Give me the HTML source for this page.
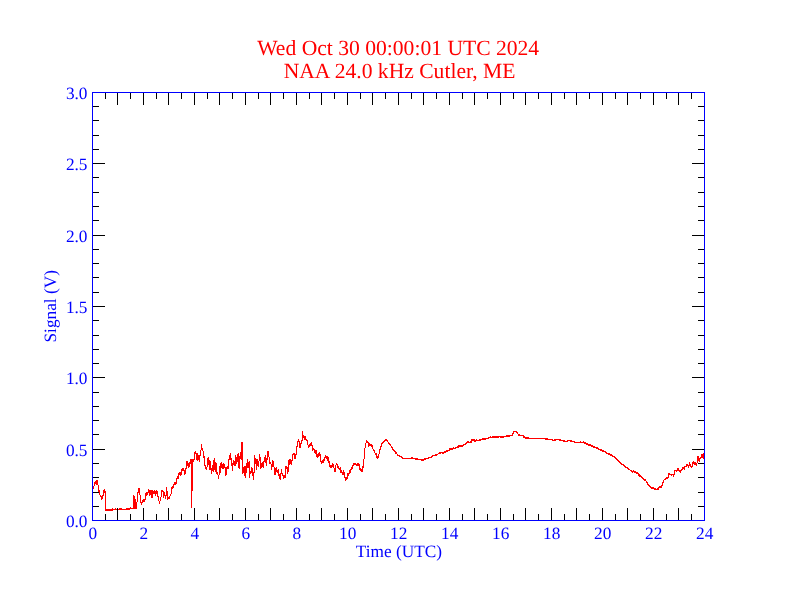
<!DOCTYPE html>
<html lang="en"><head><meta charset="utf-8"><title>NAA 24.0 kHz Cutler, ME</title>
<style>
html,body{margin:0;padding:0;background:#fff;}
body{width:792px;height:612px;overflow:hidden;font-family:"Liberation Serif",serif;}
svg{display:block;will-change:transform;}
text{font-family:"Liberation Serif",serif;text-rendering:geometricPrecision;}
</style></head><body>
<svg width="792" height="612" viewBox="0 0 792 612">
<rect width="792" height="612" fill="#fff"/>
<g fill="#f00" font-size="21.6px" text-anchor="middle">
<text x="398.2" y="54.6">Wed Oct 30 00:00:01 UTC 2024</text>
<text x="399.6" y="77.8">NAA 24.0 kHz Cutler, ME</text>
</g>
<path fill="#f00" shape-rendering="crispEdges" d="M93 486h1v3h-1zM94 482h1v4h-1zM95 481h1v3h-1zM96 480h1v5h-1zM97 480h1v5h-1zM98 485h1v7h-1zM99 490h1v5h-1zM100 495h1v2h-1zM101 496h1v4h-1zM102 495h1v4h-1zM103 490h1v6h-1zM104 489h1v4h-1zM105 491h1v20h-1zM106 509h1v2h-1zM107 509h1v2h-1zM108 509h1v2h-1zM109 509h1v2h-1zM110 509h1v2h-1zM111 509h1v2h-1zM112 508h1v3h-1zM113 509h1v1h-1zM114 509h1v1h-1zM115 508h1v2h-1zM116 509h1v1h-1zM117 509h1v1h-1zM118 509h1v1h-1zM119 508h1v2h-1zM120 508h1v2h-1zM121 508h1v2h-1zM122 509h1v1h-1zM123 509h1v1h-1zM124 509h1v1h-1zM125 509h1v1h-1zM126 508h1v2h-1zM127 508h1v2h-1zM128 508h1v2h-1zM129 508h1v2h-1zM130 507h1v2h-1zM131 508h1v1h-1zM132 508h1v1h-1zM133 495h1v14h-1zM134 496h1v13h-1zM135 499h1v10h-1zM136 502h1v7h-1zM137 492h1v10h-1zM138 488h1v5h-1zM139 488h1v7h-1zM140 495h1v8h-1zM141 502h1v3h-1zM142 500h1v3h-1zM143 499h1v3h-1zM144 499h1v3h-1zM145 493h1v7h-1zM146 492h1v4h-1zM147 492h1v3h-1zM148 489h1v4h-1zM149 490h1v6h-1zM150 490h1v5h-1zM151 490h1v8h-1zM152 490h1v8h-1zM153 491h1v3h-1zM154 490h1v4h-1zM155 491h1v5h-1zM156 490h1v4h-1zM157 491h1v6h-1zM158 496h1v5h-1zM159 501h1v3h-1zM160 497h1v4h-1zM161 490h1v7h-1zM162 490h1v2h-1zM163 491h1v7h-1zM164 492h1v4h-1zM165 495h1v4h-1zM166 487h1v9h-1zM167 491h1v9h-1zM168 497h1v2h-1zM169 496h1v3h-1zM170 494h1v2h-1zM171 487h1v7h-1zM172 486h1v3h-1zM173 484h1v4h-1zM174 482h1v3h-1zM175 482h1v3h-1zM176 478h1v6h-1zM177 476h1v3h-1zM178 473h1v6h-1zM179 472h1v3h-1zM180 472h1v4h-1zM181 469h1v6h-1zM182 468h1v3h-1zM183 468h1v3h-1zM184 470h1v5h-1zM185 468h1v6h-1zM186 461h1v8h-1zM187 461h1v5h-1zM188 463h1v5h-1zM189 462h1v5h-1zM190 459h1v5h-1zM191 459h1v49h-1zM192 459h1v32h-1zM193 459h1v3h-1zM194 452h1v8h-1zM195 451h1v3h-1zM196 453h1v7h-1zM197 453h1v8h-1zM198 455h1v5h-1zM199 455h1v7h-1zM200 450h1v6h-1zM201 444h1v6h-1zM202 448h1v3h-1zM203 451h1v7h-1zM204 456h1v10h-1zM205 465h1v4h-1zM206 467h1v3h-1zM207 458h1v9h-1zM208 457h1v8h-1zM209 460h1v10h-1zM210 461h1v9h-1zM211 468h1v6h-1zM212 465h1v6h-1zM213 460h1v12h-1zM214 458h1v12h-1zM215 462h1v10h-1zM216 463h1v11h-1zM217 472h1v3h-1zM218 475h1v4h-1zM219 466h1v9h-1zM220 463h1v10h-1zM221 462h1v6h-1zM222 464h1v5h-1zM223 463h1v6h-1zM224 464h1v4h-1zM225 467h1v9h-1zM226 467h1v8h-1zM227 466h1v3h-1zM228 459h1v10h-1zM229 455h1v5h-1zM230 453h1v7h-1zM231 458h1v8h-1zM232 463h1v8h-1zM233 460h1v5h-1zM234 461h1v5h-1zM235 455h1v11h-1zM236 457h1v7h-1zM237 454h1v8h-1zM238 453h1v15h-1zM239 456h1v13h-1zM240 452h1v7h-1zM241 442h1v18h-1zM242 442h1v32h-1zM243 467h1v6h-1zM244 466h1v10h-1zM245 466h1v12h-1zM246 463h1v10h-1zM247 459h1v9h-1zM248 462h1v6h-1zM249 461h1v17h-1zM250 471h1v3h-1zM251 467h1v6h-1zM252 468h1v8h-1zM253 472h1v8h-1zM254 455h1v18h-1zM255 458h1v6h-1zM256 459h1v11h-1zM257 459h1v7h-1zM258 461h1v6h-1zM259 454h1v7h-1zM260 457h1v12h-1zM261 463h1v5h-1zM262 462h1v5h-1zM263 461h1v7h-1zM264 457h1v5h-1zM265 455h1v8h-1zM266 458h1v8h-1zM267 451h1v9h-1zM268 451h1v6h-1zM269 457h1v7h-1zM270 462h1v2h-1zM271 464h1v6h-1zM272 460h1v7h-1zM273 461h1v6h-1zM274 467h1v8h-1zM275 468h1v7h-1zM276 467h1v5h-1zM277 470h1v3h-1zM278 469h1v7h-1zM279 474h1v5h-1zM280 473h1v7h-1zM281 469h1v5h-1zM282 473h1v3h-1zM283 475h1v4h-1zM284 475h1v3h-1zM285 466h1v12h-1zM286 466h1v3h-1zM287 467h1v7h-1zM288 460h1v12h-1zM289 459h1v6h-1zM290 459h1v5h-1zM291 460h1v5h-1zM292 454h1v7h-1zM293 453h1v2h-1zM294 453h1v6h-1zM295 454h1v5h-1zM296 446h1v9h-1zM297 441h1v6h-1zM298 439h1v3h-1zM299 441h1v7h-1zM300 443h1v5h-1zM301 440h1v4h-1zM302 431h1v10h-1zM303 435h1v3h-1zM304 436h1v4h-1zM305 436h1v4h-1zM306 439h1v2h-1zM307 440h1v5h-1zM308 445h1v3h-1zM309 444h1v3h-1zM310 443h1v3h-1zM311 442h1v4h-1zM312 445h1v6h-1zM313 448h1v2h-1zM314 449h1v4h-1zM315 450h1v4h-1zM316 450h1v7h-1zM317 454h1v4h-1zM318 453h1v4h-1zM319 452h1v4h-1zM320 454h1v8h-1zM321 461h1v3h-1zM322 460h1v3h-1zM323 459h1v4h-1zM324 457h1v4h-1zM325 455h1v3h-1zM326 456h1v3h-1zM327 456h1v5h-1zM328 457h1v6h-1zM329 461h1v6h-1zM330 465h1v3h-1zM331 465h1v3h-1zM332 463h1v4h-1zM333 464h1v4h-1zM334 468h1v4h-1zM335 465h1v7h-1zM336 463h1v2h-1zM337 464h1v4h-1zM338 466h1v3h-1zM339 468h1v2h-1zM340 467h1v6h-1zM341 470h1v3h-1zM342 472h1v3h-1zM343 470h1v5h-1zM344 472h1v6h-1zM345 477h1v4h-1zM346 477h1v3h-1zM347 473h1v6h-1zM348 473h1v3h-1zM349 470h1v4h-1zM350 469h1v4h-1zM351 467h1v3h-1zM352 465h1v4h-1zM353 463h1v3h-1zM354 463h1v2h-1zM355 463h1v2h-1zM356 464h1v2h-1zM357 463h1v3h-1zM358 463h1v3h-1zM359 464h1v6h-1zM360 468h1v3h-1zM361 469h1v3h-1zM362 466h1v6h-1zM363 459h1v9h-1zM364 448h1v11h-1zM365 443h1v5h-1zM366 440h1v3h-1zM367 441h1v2h-1zM368 442h1v5h-1zM369 443h1v3h-1zM370 444h1v2h-1zM371 444h1v3h-1zM372 445h1v4h-1zM373 449h1v2h-1zM374 450h1v3h-1zM375 453h1v2h-1zM376 453h1v5h-1zM377 456h1v3h-1zM378 454h1v4h-1zM379 449h1v5h-1zM380 446h1v4h-1zM381 443h1v4h-1zM382 442h1v2h-1zM383 441h1v2h-1zM384 440h1v2h-1zM385 439h1v2h-1zM386 439h1v2h-1zM387 440h1v2h-1zM388 442h1v2h-1zM389 443h1v2h-1zM390 444h1v2h-1zM391 446h1v2h-1zM392 447h1v3h-1zM393 449h1v2h-1zM394 450h1v2h-1zM395 451h1v3h-1zM396 452h1v2h-1zM397 454h1v2h-1zM398 455h1v1h-1zM399 455h1v2h-1zM400 456h1v1h-1zM401 456h1v2h-1zM402 457h1v2h-1zM403 458h1v1h-1zM404 458h1v1h-1zM405 458h1v1h-1zM406 458h1v1h-1zM407 458h1v1h-1zM408 458h1v1h-1zM409 458h1v1h-1zM410 458h1v1h-1zM411 457h1v2h-1zM412 457h1v2h-1zM413 458h1v1h-1zM414 458h1v1h-1zM415 458h1v2h-1zM416 458h1v2h-1zM417 458h1v2h-1zM418 459h1v1h-1zM419 459h1v1h-1zM420 459h1v1h-1zM421 459h1v2h-1zM422 459h1v2h-1zM423 459h1v2h-1zM424 458h1v2h-1zM425 458h1v2h-1zM426 458h1v1h-1zM427 458h1v1h-1zM428 457h1v2h-1zM429 457h1v1h-1zM430 457h1v1h-1zM431 456h1v2h-1zM432 455h1v2h-1zM433 455h1v1h-1zM434 455h1v1h-1zM435 454h1v2h-1zM436 454h1v2h-1zM437 454h1v1h-1zM438 453h1v1h-1zM439 452h1v2h-1zM440 452h1v2h-1zM441 452h1v1h-1zM442 452h1v2h-1zM443 452h1v2h-1zM444 451h1v2h-1zM445 451h1v2h-1zM446 450h1v2h-1zM447 450h1v2h-1zM448 450h1v1h-1zM449 448h1v3h-1zM450 448h1v2h-1zM451 448h1v2h-1zM452 448h1v2h-1zM453 447h1v2h-1zM454 448h1v1h-1zM455 447h1v2h-1zM456 447h1v1h-1zM457 446h1v2h-1zM458 445h1v3h-1zM459 445h1v2h-1zM460 445h1v2h-1zM461 445h1v2h-1zM462 445h1v2h-1zM463 444h1v2h-1zM464 444h1v1h-1zM465 443h1v2h-1zM466 442h1v2h-1zM467 441h1v2h-1zM468 441h1v2h-1zM469 442h1v1h-1zM470 441h1v2h-1zM471 439h1v4h-1zM472 439h1v2h-1zM473 439h1v2h-1zM474 439h1v3h-1zM475 440h1v2h-1zM476 439h1v2h-1zM477 440h1v1h-1zM478 440h1v1h-1zM479 439h1v2h-1zM480 439h1v2h-1zM481 439h1v1h-1zM482 438h1v2h-1zM483 438h1v2h-1zM484 438h1v2h-1zM485 438h1v2h-1zM486 438h1v1h-1zM487 438h1v1h-1zM488 437h1v2h-1zM489 437h1v1h-1zM490 436h1v2h-1zM491 437h1v1h-1zM492 436h1v2h-1zM493 436h1v2h-1zM494 436h1v2h-1zM495 436h1v2h-1zM496 436h1v2h-1zM497 436h1v2h-1zM498 436h1v2h-1zM499 436h1v1h-1zM500 436h1v2h-1zM501 436h1v2h-1zM502 436h1v2h-1zM503 436h1v2h-1zM504 436h1v1h-1zM505 436h1v1h-1zM506 435h1v2h-1zM507 435h1v2h-1zM508 435h1v2h-1zM509 435h1v2h-1zM510 435h1v1h-1zM511 435h1v1h-1zM512 433h1v3h-1zM513 431h1v3h-1zM514 431h1v1h-1zM515 431h1v1h-1zM516 431h1v2h-1zM517 432h1v2h-1zM518 434h1v2h-1zM519 434h1v2h-1zM520 435h1v1h-1zM521 435h1v1h-1zM522 435h1v1h-1zM523 435h1v3h-1zM524 436h1v2h-1zM525 437h1v2h-1zM526 437h1v2h-1zM527 437h1v2h-1zM528 437h1v2h-1zM529 438h1v1h-1zM530 438h1v1h-1zM531 438h1v1h-1zM532 438h1v1h-1zM533 438h1v1h-1zM534 438h1v1h-1zM535 438h1v1h-1zM536 438h1v1h-1zM537 438h1v1h-1zM538 438h1v1h-1zM539 438h1v1h-1zM540 438h1v1h-1zM541 438h1v1h-1zM542 438h1v1h-1zM543 438h1v1h-1zM544 438h1v1h-1zM545 438h1v2h-1zM546 438h1v2h-1zM547 438h1v2h-1zM548 439h1v1h-1zM549 439h1v1h-1zM550 439h1v1h-1zM551 439h1v1h-1zM552 439h1v2h-1zM553 440h1v1h-1zM554 439h1v2h-1zM555 439h1v2h-1zM556 439h1v1h-1zM557 439h1v1h-1zM558 439h1v1h-1zM559 439h1v2h-1zM560 439h1v2h-1zM561 440h1v1h-1zM562 440h1v1h-1zM563 440h1v2h-1zM564 440h1v2h-1zM565 441h1v1h-1zM566 441h1v1h-1zM567 440h1v2h-1zM568 440h1v1h-1zM569 440h1v1h-1zM570 440h1v2h-1zM571 440h1v2h-1zM572 441h1v1h-1zM573 441h1v1h-1zM574 441h1v2h-1zM575 442h1v1h-1zM576 442h1v1h-1zM577 442h1v1h-1zM578 442h1v1h-1zM579 442h1v1h-1zM580 441h1v2h-1zM581 442h1v1h-1zM582 442h1v1h-1zM583 441h1v2h-1zM584 442h1v2h-1zM585 442h1v2h-1zM586 443h1v2h-1zM587 443h1v2h-1zM588 444h1v2h-1zM589 444h1v2h-1zM590 444h1v2h-1zM591 445h1v2h-1zM592 445h1v2h-1zM593 446h1v2h-1zM594 446h1v2h-1zM595 447h1v1h-1zM596 447h1v2h-1zM597 447h1v2h-1zM598 448h1v2h-1zM599 449h1v1h-1zM600 449h1v2h-1zM601 449h1v2h-1zM602 450h1v2h-1zM603 450h1v2h-1zM604 451h1v1h-1zM605 451h1v2h-1zM606 452h1v2h-1zM607 453h1v1h-1zM608 453h1v2h-1zM609 453h1v2h-1zM610 454h1v2h-1zM611 454h1v2h-1zM612 455h1v2h-1zM613 456h1v1h-1zM614 456h1v2h-1zM615 457h1v2h-1zM616 458h1v2h-1zM617 459h1v2h-1zM618 460h1v2h-1zM619 461h1v2h-1zM620 462h1v2h-1zM621 463h1v2h-1zM622 464h1v1h-1zM623 464h1v2h-1zM624 465h1v2h-1zM625 466h1v2h-1zM626 467h1v1h-1zM627 467h1v2h-1zM628 468h1v2h-1zM629 469h1v1h-1zM630 470h1v1h-1zM631 470h1v2h-1zM632 471h1v2h-1zM633 470h1v2h-1zM634 471h1v2h-1zM635 471h1v2h-1zM636 472h1v2h-1zM637 472h1v2h-1zM638 473h1v3h-1zM639 474h1v3h-1zM640 475h1v2h-1zM641 476h1v2h-1zM642 477h1v2h-1zM643 478h1v2h-1zM644 479h1v2h-1zM645 479h1v2h-1zM646 481h1v2h-1zM647 482h1v3h-1zM648 484h1v2h-1zM649 485h1v2h-1zM650 486h1v2h-1zM651 487h1v2h-1zM652 487h1v2h-1zM653 487h1v2h-1zM654 488h1v2h-1zM655 488h1v2h-1zM656 489h1v1h-1zM657 488h1v2h-1zM658 487h1v3h-1zM659 486h1v2h-1zM660 486h1v2h-1zM661 485h1v3h-1zM662 482h1v4h-1zM663 480h1v3h-1zM664 479h1v1h-1zM665 478h1v2h-1zM666 477h1v2h-1zM667 477h1v2h-1zM668 473h1v5h-1zM669 473h1v2h-1zM670 474h1v1h-1zM671 474h1v2h-1zM672 474h1v1h-1zM673 474h1v3h-1zM674 470h1v5h-1zM675 470h1v1h-1zM676 470h1v2h-1zM677 468h1v3h-1zM678 468h1v3h-1zM679 470h1v2h-1zM680 470h1v3h-1zM681 469h1v2h-1zM682 467h1v3h-1zM683 467h1v2h-1zM684 466h1v4h-1zM685 466h1v1h-1zM686 464h1v3h-1zM687 464h1v2h-1zM688 465h1v3h-1zM689 462h1v4h-1zM690 464h1v3h-1zM691 466h1v2h-1zM692 462h1v5h-1zM693 461h1v3h-1zM694 462h1v3h-1zM695 462h1v3h-1zM696 463h1v3h-1zM697 456h1v7h-1zM698 456h1v5h-1zM699 458h1v4h-1zM700 457h1v2h-1zM701 454h1v4h-1zM702 454h1v4h-1zM703 453h1v6h-1z"/>
<path fill="#000" shape-rendering="crispEdges" d="M105 514h1v6h-1zM105 93h1v6h-1zM117 508h1v12h-1zM117 93h1v12h-1zM130 514h1v6h-1zM130 93h1v6h-1zM143 508h1v12h-1zM143 93h1v12h-1zM156 514h1v6h-1zM156 93h1v6h-1zM168 508h1v12h-1zM168 93h1v12h-1zM181 514h1v6h-1zM181 93h1v6h-1zM194 508h1v12h-1zM194 93h1v12h-1zM207 514h1v6h-1zM207 93h1v6h-1zM219 508h1v12h-1zM219 93h1v12h-1zM232 514h1v6h-1zM232 93h1v6h-1zM245 508h1v12h-1zM245 93h1v12h-1zM258 514h1v6h-1zM258 93h1v6h-1zM270 508h1v12h-1zM270 93h1v12h-1zM283 514h1v6h-1zM283 93h1v6h-1zM296 508h1v12h-1zM296 93h1v12h-1zM309 514h1v6h-1zM309 93h1v6h-1zM321 508h1v12h-1zM321 93h1v12h-1zM334 514h1v6h-1zM334 93h1v6h-1zM347 508h1v12h-1zM347 93h1v12h-1zM360 514h1v6h-1zM360 93h1v6h-1zM372 508h1v12h-1zM372 93h1v12h-1zM385 514h1v6h-1zM385 93h1v6h-1zM398 508h1v12h-1zM398 93h1v12h-1zM411 514h1v6h-1zM411 93h1v6h-1zM423 508h1v12h-1zM423 93h1v12h-1zM436 514h1v6h-1zM436 93h1v6h-1zM449 508h1v12h-1zM449 93h1v12h-1zM462 514h1v6h-1zM462 93h1v6h-1zM474 508h1v12h-1zM474 93h1v12h-1zM487 514h1v6h-1zM487 93h1v6h-1zM500 508h1v12h-1zM500 93h1v12h-1zM513 514h1v6h-1zM513 93h1v6h-1zM525 508h1v12h-1zM525 93h1v12h-1zM538 514h1v6h-1zM538 93h1v6h-1zM551 508h1v12h-1zM551 93h1v12h-1zM564 514h1v6h-1zM564 93h1v6h-1zM576 508h1v12h-1zM576 93h1v12h-1zM589 514h1v6h-1zM589 93h1v6h-1zM602 508h1v12h-1zM602 93h1v12h-1zM615 514h1v6h-1zM615 93h1v6h-1zM627 508h1v12h-1zM627 93h1v12h-1zM640 514h1v6h-1zM640 93h1v6h-1zM653 508h1v12h-1zM653 93h1v12h-1zM666 514h1v6h-1zM666 93h1v6h-1zM678 508h1v12h-1zM678 93h1v12h-1zM691 514h1v6h-1zM691 93h1v6h-1zM93 506h6v1h-6zM698 506h6v1h-6zM93 492h6v1h-6zM698 492h6v1h-6zM93 477h6v1h-6zM698 477h6v1h-6zM93 463h6v1h-6zM698 463h6v1h-6zM93 449h12v1h-12zM692 449h12v1h-12zM93 434h6v1h-6zM698 434h6v1h-6zM93 420h6v1h-6zM698 420h6v1h-6zM93 406h6v1h-6zM698 406h6v1h-6zM93 392h6v1h-6zM698 392h6v1h-6zM93 377h12v1h-12zM692 377h12v1h-12zM93 363h6v1h-6zM698 363h6v1h-6zM93 349h6v1h-6zM698 349h6v1h-6zM93 335h6v1h-6zM698 335h6v1h-6zM93 320h6v1h-6zM698 320h6v1h-6zM93 306h12v1h-12zM692 306h12v1h-12zM93 292h6v1h-6zM698 292h6v1h-6zM93 277h6v1h-6zM698 277h6v1h-6zM93 263h6v1h-6zM698 263h6v1h-6zM93 249h6v1h-6zM698 249h6v1h-6zM93 235h12v1h-12zM692 235h12v1h-12zM93 220h6v1h-6zM698 220h6v1h-6zM93 206h6v1h-6zM698 206h6v1h-6zM93 192h6v1h-6zM698 192h6v1h-6zM93 177h6v1h-6zM698 177h6v1h-6zM93 163h12v1h-12zM692 163h12v1h-12zM93 149h6v1h-6zM698 149h6v1h-6zM93 135h6v1h-6zM698 135h6v1h-6zM93 120h6v1h-6zM698 120h6v1h-6zM93 106h6v1h-6zM698 106h6v1h-6z"/>
<path fill="#00f" shape-rendering="crispEdges" d="M92 92h613v429h-613zM93 93v427h611v-427z" fill-rule="evenodd"/>
<g fill="#00f" font-size="17.3px" text-anchor="middle">
<text x="92.75" y="538.5">0</text>
<text x="143.75" y="538.5">2</text>
<text x="194.75" y="538.5">4</text>
<text x="245.75" y="538.5">6</text>
<text x="296.75" y="538.5">8</text>
<text x="347.75" y="538.5">10</text>
<text x="398.75" y="538.5">12</text>
<text x="449.75" y="538.5">14</text>
<text x="500.75" y="538.5">16</text>
<text x="551.75" y="538.5">18</text>
<text x="602.75" y="538.5">20</text>
<text x="653.75" y="538.5">22</text>
<text x="704.75" y="538.5">24</text>
<text x="399" y="556.8">Time (UTC)</text>
<text transform="translate(56.1,306.3) rotate(-90)">Signal (V)</text>
</g>
<g fill="#00f" font-size="17.3px" text-anchor="end">
<text x="87.5" y="526.5">0.0</text>
<text x="87.5" y="455.5">0.5</text>
<text x="87.5" y="383.5">1.0</text>
<text x="87.5" y="312.5">1.5</text>
<text x="87.5" y="241.5">2.0</text>
<text x="87.5" y="169.5">2.5</text>
<text x="87.5" y="98.5">3.0</text>
</g>
</svg>
</body></html>
